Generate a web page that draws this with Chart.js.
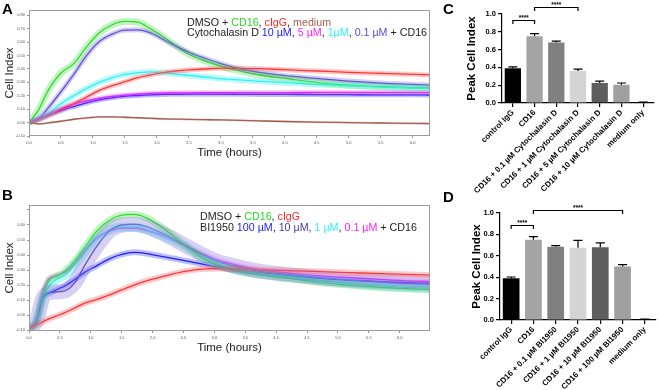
<!DOCTYPE html>
<html lang="en">
<head>
<meta charset="UTF-8" />
<title>Cell Index kinetics and peak cell index</title>
<script src="https://cdn.jsdelivr.net/npm/chart.js@4.4.1/dist/chart.umd.min.js"></script>
<style>
  body { margin: 0; background: #fff; }
  #fig { position: relative; width: 660px; height: 390px; overflow: hidden; font-family: "Liberation Sans", Arial, sans-serif; }
  canvas { position: absolute; }
  .tag { position: absolute; font-weight: bold; font-size: 15px; line-height: 15px; color: #000; }
  .key { position: absolute; font-size: 10.7px; line-height: 10.7px; white-space: nowrap; color: #222; }
</style>
</head>
<body>
<div id="fig">
  <canvas id="chartA" width="435" height="170" style="left:0;top:0"></canvas>
  <canvas id="chartB" width="435" height="170" style="left:0;top:195px"></canvas>
  <canvas id="chartC" width="230" height="195" style="left:430px;top:0"></canvas>
  <canvas id="chartD" width="230" height="195" style="left:430px;top:195px"></canvas>

  <div class="tag" style="left:2px;top:1px">A</div>
  <div class="tag" style="left:2px;top:187px">B</div>
  <div class="tag" style="left:443px;top:1px">C</div>
  <div class="tag" style="left:443px;top:189px">D</div>

  <div class="key" style="left:187px;top:16.5px">
    DMSO + <span style="color:#22dd22">CD16</span>, <span style="color:#ff2a2a">cIgG</span>, <span style="color:#a65e4e">medium</span><br>
    Cytochalasin D <span style="color:#1a1aff">10 µM</span>, <span style="color:#ff22ff">5 µM</span>, <span style="color:#2ff0f0">1µM</span>, <span style="color:#5a4ad0">0.1 µM</span> + CD16
  </div>
  <div class="key" style="left:200px;top:211px">
    DMSO + <span style="color:#22dd22">CD16</span>, <span style="color:#ff2a2a">cIgG</span><br>
    BI1950 <span style="color:#1a1aff">100 µM</span>, <span style="color:#4a3a9f">10 µM</span>, <span style="color:#2ff0f0">1 µM</span>, <span style="color:#ff22ff">0.1 µM</span> + CD16
  </div>
</div>

<script>
// ---- panel A: Cytochalasin D, cell index vs time (hours)
const timeA = [0, 0.15, 0.3, 0.5, 0.7, 0.9, 1.1, 1.3, 1.5, 1.7, 1.9, 2.1, 2.3, 2.5, 2.75, 3.0, 3.3, 3.6, 4.0, 4.5, 5.0, 5.5, 6.0, 6.27];
const cd16A   = [0, 0.095, 0.24, 0.37, 0.44, 0.565, 0.67, 0.73, 0.755, 0.75, 0.70, 0.64, 0.57, 0.51, 0.46, 0.42, 0.385, 0.355, 0.33, 0.30, 0.28, 0.268, 0.26, 0.257];
const cytoA01 = [0, 0.03, 0.11, 0.23, 0.36, 0.50, 0.605, 0.66, 0.69, 0.692, 0.67, 0.62, 0.57, 0.525, 0.48, 0.44, 0.40, 0.375, 0.35, 0.33, 0.31, 0.295, 0.285, 0.28];
const cytoA1  = [0, 0.025, 0.065, 0.14, 0.20, 0.255, 0.30, 0.335, 0.36, 0.372, 0.378, 0.373, 0.362, 0.352, 0.34, 0.328, 0.318, 0.308, 0.298, 0.285, 0.275, 0.265, 0.258, 0.255];
const cytoA5  = [0, 0.03, 0.065, 0.105, 0.14, 0.162, 0.18, 0.195, 0.205, 0.212, 0.218, 0.22, 0.222, 0.222, 0.223, 0.223, 0.224, 0.224, 0.224, 0.225, 0.225, 0.225, 0.225, 0.225];
const cytoA10 = [0, 0.025, 0.055, 0.09, 0.12, 0.148, 0.17, 0.185, 0.196, 0.202, 0.207, 0.21, 0.211, 0.212, 0.212, 0.212, 0.211, 0.21, 0.21, 0.209, 0.208, 0.207, 0.207, 0.206];
const cIgGA   = [0, 0.02, 0.05, 0.095, 0.14, 0.19, 0.24, 0.275, 0.305, 0.335, 0.355, 0.373, 0.385, 0.393, 0.40, 0.405, 0.405, 0.402, 0.395, 0.385, 0.375, 0.367, 0.36, 0.356];
const mediumA = [0, -0.01, -0.002, 0.01, 0.025, 0.035, 0.042, 0.042, 0.04, 0.036, 0.032, 0.028, 0.026, 0.024, 0.022, 0.02, 0.017, 0.013, 0.008, 0.003, 0, -0.003, -0.006, -0.007];

// ---- panel B: BI1950
const timeB = [0, 0.12, 0.22, 0.32, 0.45, 0.6, 0.75, 0.9, 1.1, 1.3, 1.5, 1.7, 1.9, 2.1, 2.3, 2.5, 2.75, 3.0, 3.3, 3.7, 4.2, 4.7, 5.2, 5.7, 6.2, 6.49];
const cd16B  = [-0.089, -0.04, 0.12, 0.23, 0.26, 0.30, 0.365, 0.45, 0.56, 0.63, 0.665, 0.67, 0.648, 0.60, 0.54, 0.47, 0.395, 0.34, 0.30, 0.27, 0.245, 0.218, 0.20, 0.185, 0.175, 0.171];
const biB1   = [-0.089, -0.04, 0.11, 0.19, 0.24, 0.27, 0.34, 0.42, 0.51, 0.565, 0.585, 0.585, 0.568, 0.54, 0.505, 0.467, 0.40, 0.35, 0.31, 0.28, 0.255, 0.23, 0.21, 0.195, 0.184, 0.18];
const biB10  = [-0.089, -0.04, 0.11, 0.15, 0.155, 0.165, 0.22, 0.33, 0.46, 0.56, 0.60, 0.605, 0.59, 0.555, 0.515, 0.47, 0.415, 0.365, 0.33, 0.295, 0.27, 0.25, 0.235, 0.224, 0.216, 0.213];
const biB01  = [-0.089, -0.04, 0.15, 0.24, 0.265, 0.29, 0.35, 0.43, 0.515, 0.56, 0.58, 0.58, 0.565, 0.54, 0.505, 0.47, 0.42, 0.375, 0.34, 0.305, 0.28, 0.262, 0.25, 0.238, 0.228, 0.225];
const biB100 = [-0.089, -0.04, 0.11, 0.145, 0.17, 0.20, 0.24, 0.285, 0.33, 0.375, 0.405, 0.418, 0.41, 0.395, 0.38, 0.365, 0.345, 0.325, 0.305, 0.285, 0.265, 0.245, 0.232, 0.22, 0.21, 0.207];
const cIgGB  = [-0.089, -0.065, -0.045, -0.025, -0.005, 0.02, 0.05, 0.08, 0.105, 0.135, 0.168, 0.20, 0.228, 0.25, 0.272, 0.29, 0.305, 0.31, 0.308, 0.303, 0.296, 0.29, 0.283, 0.276, 0.27, 0.267];

// ---- panel C / D: peak cell index
const labelsC = ["control IgG", "CD16", "CD16 + 0.1 µM Cytochalasin D", "CD16 + 1 µM Cytochalasin D",
                 "CD16 + 5 µM Cytochalasin D", "CD16 + 10 µM Cytochalasin D", "medium only"];
const peakC = [0.39, 0.75, 0.68, 0.36, 0.225, 0.205, 0.005];
const errC  = [0.015, 0.03, 0.015, 0.02, 0.02, 0.02, 0.004];
const sigC  = [[0, 1, 0.93], [1, 3, 1.08]];

const labelsD = ["control IgG", "CD16", "CD16 + 0.1 µM BI1950", "CD16 + 1 µM BI1950",
                 "CD16 + 10 µM BI1950", "CD16 + 100 µM BI1950", "medium only"];
const peakD = [0.39, 0.75, 0.685, 0.675, 0.68, 0.50, 0.005];
const errD  = [0.012, 0.03, 0.01, 0.07, 0.04, 0.018, 0.004];
const sigD  = [[0, 1, 0.885], [1, 5, 1.03]];

const barGreys = ["#000000", "#a4a4a4", "#808080", "#d4d4d4", "#5e5e5e", "#a0a0a0", "#000000"];

Chart.defaults.font.family = '"Liberation Sans", Arial, sans-serif';

// light frame round the kinetics plots
const framePlugin = {
  id: "frame",
  afterDraw(chart) {
    const { ctx, chartArea: a } = chart;
    ctx.save();
    ctx.strokeStyle = "#9c9c9c";
    ctx.lineWidth = 1;
    ctx.strokeRect(a.left + 0.5, a.top + 0.5, a.width - 1, a.height - 1);
    ctx.restore();
  }
};

// upper error bars on bars
const errorBars = {
  id: "errorBars",
  afterDatasetsDraw(chart, args, opts) {
    const meta = chart.getDatasetMeta(0);
    const y = chart.scales.y;
    const vals = chart.data.datasets[0].data;
    const ctx = chart.ctx;
    ctx.save();
    ctx.strokeStyle = "#000";
    ctx.lineWidth = 1.2;
    meta.data.forEach((bar, i) => {
      const top = y.getPixelForValue(vals[i] + opts.err[i]);
      ctx.beginPath();
      ctx.moveTo(bar.x, bar.y);
      ctx.lineTo(bar.x, top);
      ctx.moveTo(bar.x - 4.5, top);
      ctx.lineTo(bar.x + 4.5, top);
      ctx.stroke();
    });
    ctx.restore();
  }
};

// significance brackets
const brackets = {
  id: "brackets",
  afterDraw(chart, args, opts) {
    const meta = chart.getDatasetMeta(0);
    const y = chart.scales.y;
    const ctx = chart.ctx;
    ctx.save();
    ctx.strokeStyle = "#000";
    ctx.fillStyle = "#000";
    ctx.lineWidth = 1.2;
    ctx.font = 'bold 6.5px "Liberation Sans", Arial, sans-serif';
    ctx.textAlign = "center";
    ctx.textBaseline = "bottom";
    opts.pairs.forEach(([from, to, level]) => {
      const x1 = meta.data[from].x, x2 = meta.data[to].x;
      const py = Math.round(y.getPixelForValue(level)) + 0.5;
      ctx.beginPath();
      ctx.moveTo(x1, py + 3.5);
      ctx.lineTo(x1, py);
      ctx.lineTo(x2, py);
      ctx.lineTo(x2, py + 3.5);
      ctx.stroke();
      ctx.fillText("****", (x1 + x2) / 2, py + 0.5);
    });
    ctx.restore();
  }
};

function traces(times, list) {
  const bands = list.map(s => ({
    data: times.map((t, i) => ({ x: t, y: s.values[i] })),
    borderColor: s.band,
    borderWidth: s.bandWidth,
    pointRadius: 0,
    cubicInterpolationMode: "monotone"
  }));
  const lines = list.map(s => ({
    data: times.map((t, i) => ({ x: t, y: s.values[i] })),
    borderColor: s.color,
    borderWidth: 1.3,
    pointRadius: 0,
    cubicInterpolationMode: "monotone"
  }));
  return bands.concat(lines);
}

function lineOptions(xmax, ymin, ymax, yLabel) {
  return {
    responsive: false,
    animation: false,
    layout: { padding: { top: 10, right: 5, left: 0, bottom: 0 } },
    plugins: { legend: { display: false }, tooltip: { enabled: false } },
    scales: {
      x: {
        type: "linear", min: 0, max: xmax,
        grid: { drawOnChartArea: false, tickLength: 2, color: "#999" },
        border: { display: false },
        ticks: { stepSize: 0.5, includeBounds: false, autoSkip: false, maxRotation: 0, padding: 2,
                 color: "#555", font: { size: 4 }, callback: v => v.toFixed(1) },
        title: { display: true, text: "Time (hours)", color: "#222", font: { size: 11.5 }, padding: { top: 0, bottom: 10 } },
        afterFit(s) { s.height = 34; }
      },
      y: {
        min: ymin, max: ymax,
        grid: { drawOnChartArea: false, tickLength: 2, color: "#999" },
        border: { display: false },
        ticks: { stepSize: 0.1, includeBounds: false, autoSkip: false, padding: 2,
                 color: "#555", font: { size: 4 }, callback: yLabel },
        title: { display: true, text: "Cell Index", color: "#222", font: { size: 11.5 }, padding: { top: 2.5, bottom: 0 } },
        afterFit(s) { s.width = 29; }
      }
    }
  };
}

new Chart(document.getElementById("chartA"), {
  type: "line",
  data: {
    datasets: traces(timeA, [
      { values: mediumA, color: "#a65e4e", band: "rgba(166,94,78,0.3)", bandWidth: 2 },
      { values: cIgGA, color: "#ff2a2a", band: "rgba(255,80,80,0.3)", bandWidth: 5 },
      { values: cytoA1, color: "#2ff0f0", band: "rgba(60,240,240,0.35)", bandWidth: 6 },
      { values: cytoA5, color: "#ff22ff", band: "rgba(255,60,255,0.3)", bandWidth: 5 },
      { values: cytoA10, color: "#1a1aff", band: "rgba(40,40,255,0.3)", bandWidth: 5 },
      { values: cytoA01, color: "#5a4ad0", band: "rgba(110,95,220,0.3)", bandWidth: 5 },
      { values: cd16A, color: "#22dd22", band: "rgba(60,220,60,0.3)", bandWidth: 7 }
    ])
  },
  options: lineOptions(6.27, -0.1, 0.84, v => v.toFixed(2)),
  plugins: [framePlugin]
});

new Chart(document.getElementById("chartB"), {
  type: "line",
  data: {
    datasets: traces(timeB, [
      { values: cIgGB, color: "#ff2a2a", band: "rgba(255,80,80,0.3)", bandWidth: 6 },
      { values: biB10, color: "#5040b0", band: "rgba(140,120,220,0.35)", bandWidth: 15 },
      { values: cd16B, color: "#22dd22", band: "rgba(60,220,60,0.3)", bandWidth: 7 },
      { values: biB1, color: "#2ff0f0", band: "rgba(60,240,240,0.35)", bandWidth: 9 },
      { values: biB01, color: "#ff22ff", band: "rgba(255,60,255,0.25)", bandWidth: 5 },
      { values: biB100, color: "#1a1aff", band: "rgba(40,40,255,0.3)", bandWidth: 6 }
    ])
  },
  options: lineOptions(6.49, -0.105, 0.733, v => (Math.abs(v - 0.7) < 1e-6 ? "" : v.toFixed(2))),
  plugins: [framePlugin]
});

function barChart(id, labels, values, err, pairs, box) {
  new Chart(document.getElementById(id), {
    type: "bar",
    data: {
      labels: labels,
      datasets: [{ data: values, backgroundColor: barGreys, borderWidth: 0,
                   barPercentage: 0.75, categoryPercentage: 1 }]
    },
    options: {
      responsive: false,
      animation: false,
      layout: { padding: { top: box.top, right: box.right, left: 0, bottom: 0 } },
      plugins: { legend: { display: false }, tooltip: { enabled: false },
                 errorBars: { err: err }, brackets: { pairs: pairs } },
      scales: {
        x: {
          grid: { drawOnChartArea: false, offset: false, tickLength: 4, color: "#000", lineWidth: 1.2 },
          border: { display: true, color: "#000", width: 1.2 },
          ticks: { autoSkip: false, maxRotation: 45, minRotation: 45, padding: 1, color: "#000",
                   font: { size: 8, weight: "bold" } },
          afterFit(s) { s.height = box.xh; }
        },
        y: {
          min: 0, max: 1,
          grid: { drawOnChartArea: false, tickLength: 4, color: "#000", lineWidth: 1.2 },
          border: { display: true, color: "#000", width: 1.2 },
          ticks: { stepSize: 0.2, padding: 2, color: "#000", font: { size: 7.5, weight: "bold" },
                   callback: v => v.toFixed(1) },
          title: { display: true, text: "Peak Cell Index", color: "#000",
                   font: { size: 11.5, weight: "bold" }, padding: { top: box.tp, bottom: 0 } },
          afterFit(s) { s.width = box.yw; }
        }
      }
    },
    plugins: [errorBars, brackets]
  });
}

barChart("chartC", labelsC, peakC, errC, sigC, { top: 14, right: 6, xh: 92, yw: 72, tp: 34.5 });
barChart("chartD", labelsD, peakD, errD, sigD, { top: 18, right: 4, xh: 70, yw: 70, tp: 39.5 });
</script>
</body>
</html>
